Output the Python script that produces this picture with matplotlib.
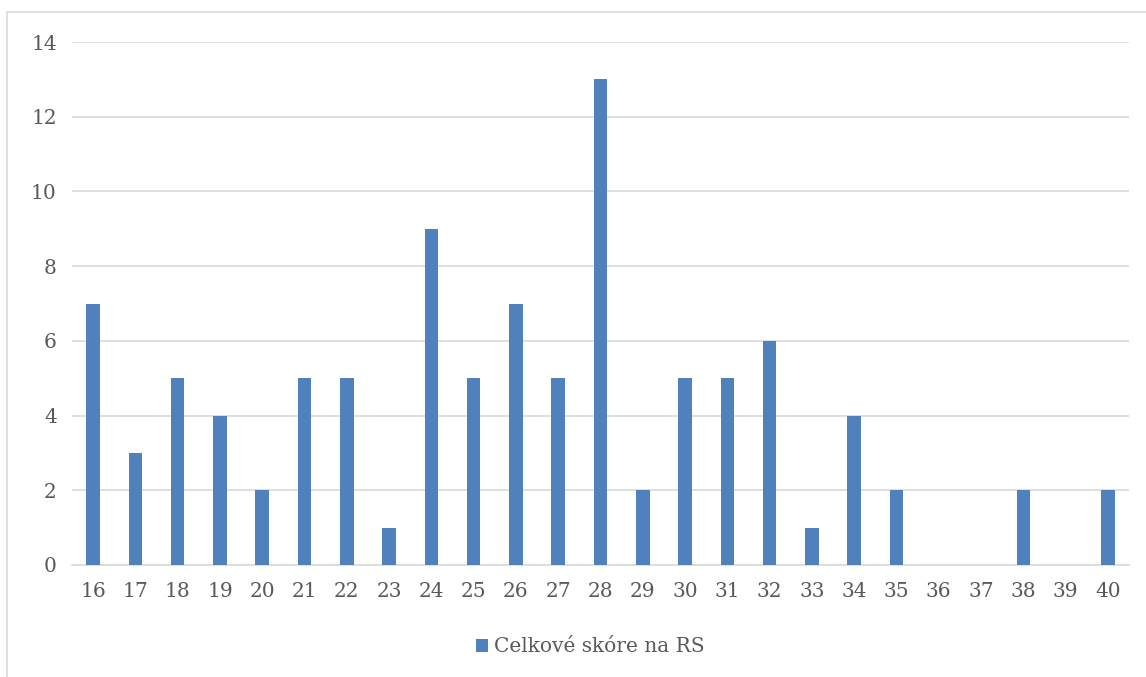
import matplotlib
matplotlib.use("Agg")
import matplotlib.pyplot as plt
from matplotlib.patches import Rectangle

categories = [str(v) for v in range(16, 41)]
values = [7, 3, 5, 4, 2, 5, 5, 1, 9, 5, 7, 5, 13, 2, 5, 5, 6, 1, 4, 2, 0, 0, 2, 0, 2]
series_name = "Celkové skóre na RS"
yticks = [0, 2, 4, 6, 8, 10, 12, 14]

plt.rcParams['font.family'] = ['DejaVu Serif']
text_color = '#595959'
bar_color = '#4f81bd'
grid_color = '#d9d9d9'

fig = plt.figure(figsize=(11.46, 6.77), dpi=100)
fig.patch.set_facecolor('white')
fig.patches.append(Rectangle((7/1146, -0.05), 1.1, (677-12)/677 + 0.05,
                             transform=fig.transFigure, fill=False,
                             edgecolor=grid_color, linewidth=1.2))

ax = fig.add_axes([72/1146, (677-565)/677, (1129-72)/1146, (565-42)/677])
x = list(range(len(categories)))
ax.bar(x, values, width=0.32, color=bar_color, label=series_name, zorder=3)
ax.set_xlim(-0.5, len(categories) - 0.5)
ax.set_ylim(0, 14)
ax.set_yticks(yticks)
ax.set_xticks(x)
ax.set_xticklabels(categories)
ax.yaxis.grid(True, color=grid_color, linewidth=1.2, zorder=0)
ax.set_axisbelow(True)
for s in ['top', 'right', 'left']:
    ax.spines[s].set_visible(False)
ax.spines['bottom'].set_color(grid_color)
ax.spines['bottom'].set_linewidth(1.2)
ax.tick_params(axis='both', length=0, labelsize=14.5, colors=text_color)
ax.tick_params(axis='y', pad=11)
ax.tick_params(axis='x', pad=12)

leg = fig.legend(loc='center', bbox_to_anchor=(590/1146, (677-647)/677),
                 frameon=False, fontsize=14.5, handlelength=0.6, handleheight=0.6,
                 handletextpad=0.3)
for t in leg.get_texts():
    t.set_color(text_color)

fig.savefig("out.png", dpi=100, facecolor='white')
